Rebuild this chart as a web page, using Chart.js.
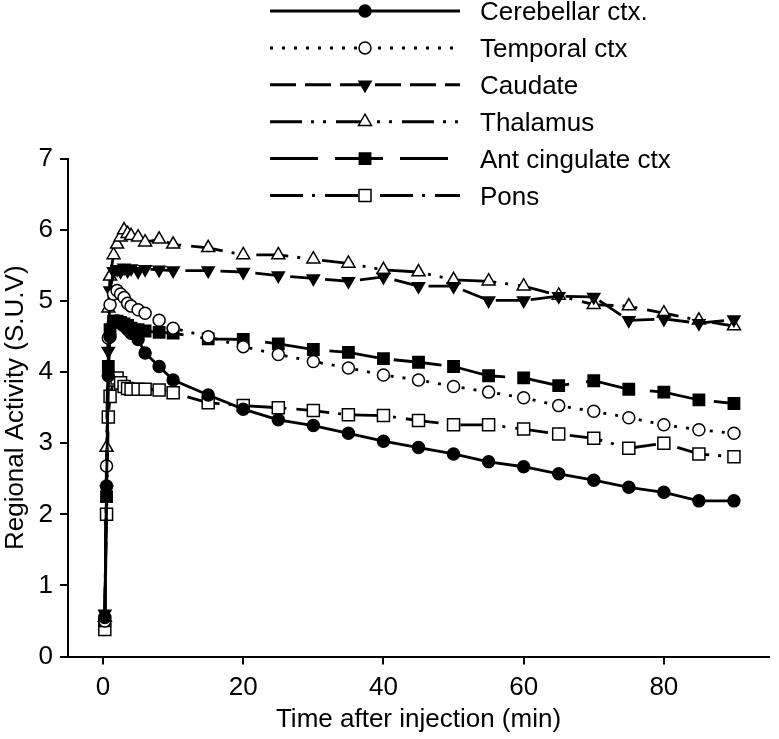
<!DOCTYPE html>
<html>
<head>
<meta charset="utf-8">
<script src="https://cdn.jsdelivr.net/npm/chart.js@4.4.1/dist/chart.umd.min.js"></script>
<style>
  html, body { margin: 0; padding: 0; background: #fff; }
  canvas { display: block; }
</style>
</head>
<body>
<canvas id="myChart" width="779" height="739"></canvas>
<script>
// minutes after injection
let times = [0.25, 0.5, 0.75, 1, 1.5, 2, 2.5, 3, 3.5, 4, 5, 6, 8, 10, 15,
  20, 25, 30, 35, 40, 45, 50, 55, 60, 65, 70, 75, 80, 85, 90];

let cerebellar = [0.55, 2.4, 3.95, 4.5, 4.7, 4.72, 4.7, 4.65, 4.6, 4.55, 4.46, 4.27, 4.08, 3.89, 3.68,
  3.48, 3.33, 3.25, 3.14, 3.03, 2.94, 2.85, 2.74, 2.67, 2.57, 2.48, 2.38, 2.31, 2.19, 2.19];
let temporal = [0.5, 2.68, 4.48, 4.95, 5.1, 5.15, 5.1, 5.05, 4.97, 4.93, 4.88, 4.83, 4.73, 4.62, 4.5,
  4.36, 4.25, 4.15, 4.06, 3.96, 3.89, 3.8, 3.72, 3.64, 3.53, 3.45, 3.36, 3.26, 3.19, 3.14];
let caudate = [0.6, 2.35, 4.3, 5.15, 5.42, 5.45, 5.42, 5.47, 5.43, 5.46, 5.42, 5.45, 5.44, 5.43, 5.43,
  5.41, 5.36, 5.32, 5.28, 5.34, 5.21, 5.21, 5.01, 5.01, 5.07, 5.06, 4.73, 4.75, 4.69, 4.74];
let thalamus = [0.55, 2.94, 4.9, 5.35, 5.65, 5.8, 5.9, 6.0, 5.95, 5.92, 5.9, 5.83, 5.87, 5.8, 5.75,
  5.65, 5.65, 5.59, 5.53, 5.44, 5.41, 5.3, 5.28, 5.21, 5.08, 4.95, 4.93, 4.83, 4.73, 4.65];
let antCingulate = [0.5, 2.25, 4.08, 4.6, 4.72, 4.72, 4.7, 4.68, 4.66, 4.62, 4.6, 4.58, 4.56, 4.55, 4.47,
  4.46, 4.4, 4.32, 4.28, 4.19, 4.14, 4.08, 3.95, 3.92, 3.81, 3.88, 3.76, 3.72, 3.61, 3.56];
let pons = [0.38, 2.0, 3.37, 3.66, 3.89, 3.92, 3.85, 3.8, 3.77, 3.76, 3.76, 3.76, 3.75, 3.71, 3.57,
  3.53, 3.5, 3.46, 3.4, 3.39, 3.32, 3.26, 3.26, 3.2, 3.13, 3.07, 2.93, 3.0, 2.85, 2.81];

let labels = ['Cerebellar ctx.', 'Temporal ctx', 'Caudate', 'Thalamus', 'Ant cingulate ctx', 'Pons'];
let xTicks = [0, 20, 40, 60, 80];
let yTicks = [0, 1, 2, 3, 4, 5, 6, 7];

const FONT = '"Liberation Sans", Arial, sans-serif';

function series(values) {
  return values.map((v, i) => ({ x: times[i], y: v }));
}

function style(label, values, dash, marker, filled, radius, rotation) {
  return {
    label: label,
    data: series(values),
    borderColor: '#000',
    borderWidth: 2.8,
    borderDash: dash,
    pointStyle: marker,
    pointRadius: radius,
    pointRotation: rotation || 0,
    pointBackgroundColor: filled ? '#000' : '#fff',
    pointBorderColor: '#000',
    pointBorderWidth: 1.5,
    tension: 0
  };
}

let datasets = [
  style(labels[0], cerebellar, [], 'circle', true, 6),
  style(labels[1], temporal, [3, 9], 'circle', false, 6),
  style(labels[2], caudate, [26, 9], 'triangle', true, 7, 180),
  style(labels[3], thalamus, [32, 9, 3, 9, 3, 10], 'triangle', false, 7.5),
  style(labels[4], antCingulate, [48, 17], 'rect', true, 8),
  style(labels[5], pons, [33, 9, 3, 10], 'rect', false, 8.5)
];

// legend drawn as line + marker, the way the figure shows it
const lineLegend = {
  id: 'lineLegend',
  afterDraw(chart) {
    const ctx = chart.ctx;
    ctx.save();
    chart.data.datasets.forEach((ds, i) => {
      const y = 11 + i * 36.9;
      ctx.strokeStyle = '#000';
      ctx.lineWidth = 3;
      ctx.setLineDash(ds.borderDash);
      ctx.beginPath();
      ctx.moveTo(270, y);
      ctx.lineTo(460, y);
      ctx.stroke();
      ctx.setLineDash([]);
      ctx.fillStyle = ds.pointBackgroundColor;
      ctx.strokeStyle = '#000';
      ctx.lineWidth = ds.pointBorderWidth;
      Chart.helpers.drawPoint(ctx, {
        pointStyle: ds.pointStyle,
        radius: ds.pointRadius,
        rotation: ds.pointRotation,
        borderWidth: ds.pointBorderWidth
      }, 365, y);
      ctx.fillStyle = '#000';
      ctx.font = '26px ' + FONT;
      ctx.textBaseline = 'middle';
      ctx.textAlign = 'left';
      ctx.fillText(ds.label, 480, y + 2);
    });
    ctx.restore();
  }
};

let myChart = document.getElementById('myChart').getContext('2d');

let chart = new Chart(myChart, {
  type: 'line',
  data: { datasets: datasets },
  plugins: [lineLegend],
  options: {
    responsive: false,
    animation: false,
    layout: { padding: { top: 159, right: 2, left: 0, bottom: 0 } },
    plugins: {
      legend: { display: false },
      tooltip: { enabled: false }
    },
    scales: {
      x: {
        type: 'linear',
        min: -5,
        max: 95,
        afterBuildTicks: (scale) => { scale.ticks = xTicks.map(v => ({ value: v })); },
        afterFit: (scale) => { scale.height = 82.5; },
        border: { display: true, color: '#000', width: 2 },
        grid: { drawOnChartArea: false, drawTicks: true, tickLength: 8, color: '#000', lineWidth: 2 },
        ticks: { color: '#000', font: { family: FONT, size: 26 }, padding: 8, maxRotation: 0 },
        title: { display: true, text: 'Time after injection (min)', color: '#000',
          font: { family: FONT, size: 26 }, padding: { top: 0, bottom: 4 } }
      },
      y: {
        min: 0,
        max: 7,
        afterBuildTicks: (scale) => { scale.ticks = yTicks.map(v => ({ value: v })); },
        afterFit: (scale) => { scale.width = 68; },
        border: { display: true, color: '#000', width: 2 },
        grid: { drawOnChartArea: false, drawTicks: true, tickLength: 8, color: '#000', lineWidth: 2 },
        ticks: { color: '#000', font: { family: FONT, size: 26 }, padding: 7 },
        title: { display: true, text: 'Regional Activity (S.U.V)', color: '#000',
          font: { family: FONT, size: 26 }, padding: 0 }
      }
    }
  }
});
</script>
</body>
</html>
